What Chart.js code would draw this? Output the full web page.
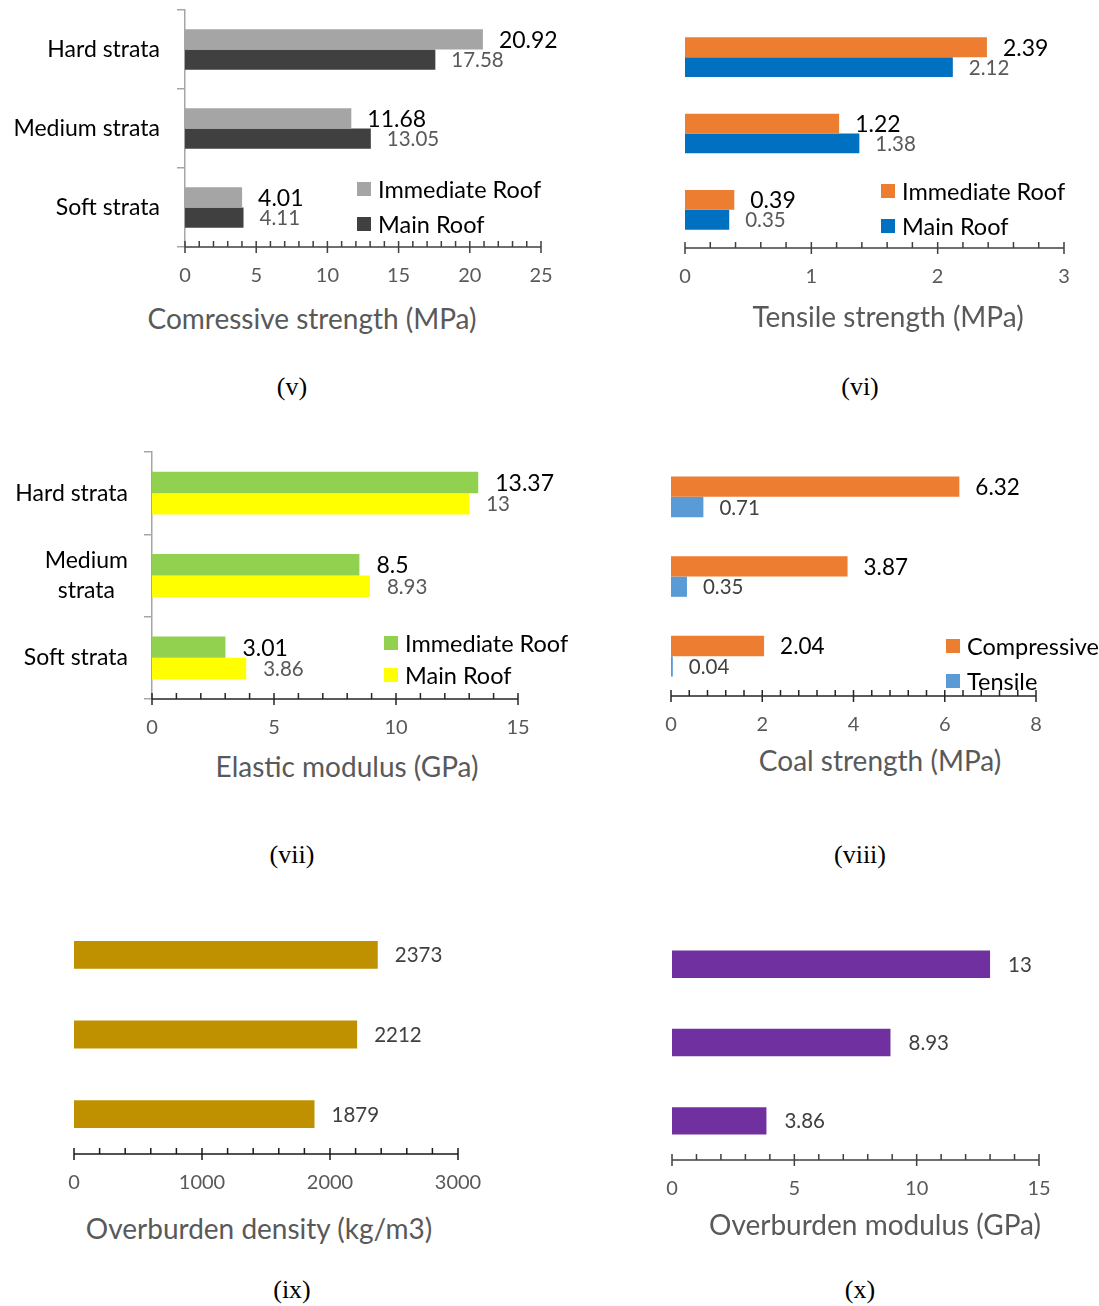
<!DOCTYPE html>
<html>
<head>
<meta charset="utf-8">
<title>Strata properties</title>
<script src="https://cdn.jsdelivr.net/npm/chart.js@4.4.1/dist/chart.umd.min.js"></script>
<style>
  body { margin: 0; background: #fff; }
  #page { position: relative; width: 1099px; height: 1306px; overflow: hidden; font-family: Lato, sans-serif; }
  #page canvas { position: absolute; }
  .axis-title { position: absolute; transform: translate(-50%, -50%); color: #595959; font-size: 28px; white-space: nowrap; }
  .caption { position: absolute; transform: translate(-50%, -50%); font-family: 'Liberation Serif', 'Times New Roman', serif; font-size: 26px; color: #000; }
</style>
</head>
<body>
<div id="page"></div>
<script>
// values per panel
const strataLabels = ['Hard strata', 'Medium strata', 'Soft strata'];
const strataLabelsWrapped = ['Hard strata', ['Medium', 'strata'], 'Soft strata'];

const compImmediate = [20.92, 11.68, 4.01];
const compMain = [17.58, 13.05, 4.11];
const tensImmediate = [2.39, 1.22, 0.39];
const tensMain = [2.12, 1.38, 0.35];
const elasticImmediate = [13.37, 8.5, 3.01];
const elasticMain = [13, 8.93, 3.86];
const coalCompressive = [6.32, 3.87, 2.04];
const coalTensile = [0.71, 0.35, 0.04];
const overburdenDensity = [2373, 2212, 1879];
const overburdenModulus = [13, 8.93, 3.86];

// [min, max, major step, minor step]
const compAxis = [0, 25, 5, 1];
const tensAxis = [0, 3, 1, 0.2];
const elasticAxis = [0, 15, 5, 1];
const coalAxis = [0, 8, 2, 0.4];
const densityAxis = [0, 3000, 1000, 200];
const modulusAxis = [0, 15, 5, 1];

const FONT = 'Lato, sans-serif';

// x axis line with crossing major ticks and inward minor ticks
const axisTicks = {
  id: 'axisTicks',
  afterDraw(chart, args, o) {
    const { ctx, chartArea } = chart;
    const sx = chart.scales.x;
    const y0 = chartArea.bottom;
    ctx.save();
    ctx.strokeStyle = o.color;
    ctx.lineWidth = 1.5;
    ctx.beginPath();
    ctx.moveTo(chartArea.left, y0);
    ctx.lineTo(chartArea.right, y0);
    const n = Math.round((sx.max - sx.min) / o.minor);
    for (let i = 0; i <= n; i++) {
      const v = sx.min + i * o.minor;
      const px = sx.getPixelForValue(v);
      const r = v / o.major;
      const major = Math.abs(r - Math.round(r)) < 1e-6;
      ctx.moveTo(px, y0 - 6);
      ctx.lineTo(px, y0 + (major ? 6 : 0));
    }
    ctx.stroke();
    ctx.restore();
  }
};

// value text at the end of each bar
const barValues = {
  id: 'barValues',
  afterDatasetsDraw(chart, args, o) {
    const ctx = chart.ctx;
    ctx.save();
    ctx.textAlign = 'left';
    ctx.textBaseline = 'middle';
    chart.data.datasets.forEach((ds, i) => {
      ctx.font = ds.valueSize + 'px ' + FONT;
      ctx.fillStyle = ds.valueColor;
      chart.getDatasetMeta(i).data.forEach((bar, j) => {
        ctx.fillText(String(ds.data[j]), bar.x + o.offset, bar.y + 1);
      });
    });
    ctx.restore();
  }
};

// legend boxes drawn inside the plot
const boxLegend = {
  id: 'boxLegend',
  afterDraw(chart, args, o) {
    const ctx = chart.ctx;
    ctx.save();
    ctx.font = o.size + 'px ' + FONT;
    ctx.textAlign = 'left';
    ctx.textBaseline = 'middle';
    chart.data.datasets.forEach((ds, i) => {
      const cy = o.y + i * o.gap;
      ctx.fillStyle = ds.backgroundColor;
      ctx.fillRect(o.x, cy - 7, 14, 14);
      ctx.fillStyle = '#000';
      ctx.fillText(ds.label, o.x + 21, cy + 1);
    });
    ctx.restore();
  }
};

// category names: block right-aligned, lines centred within the block
const categoryLabels = {
  id: 'categoryLabels',
  afterDraw(chart, args, o) {
    const ctx = chart.ctx;
    const sy = chart.scales.y;
    ctx.save();
    ctx.font = o.size + 'px ' + FONT;
    ctx.fillStyle = '#000';
    ctx.textAlign = 'center';
    ctx.textBaseline = 'middle';
    const right = chart.chartArea.left - o.gap;
    chart.data.labels.forEach((lab, i) => {
      const lines = [].concat(lab);
      const w = Math.max(...lines.map(l => ctx.measureText(l).width));
      const cy = sy.getPixelForValue(i);
      lines.forEach((l, k) => {
        ctx.fillText(l, right - w / 2, cy + (k - (lines.length - 1) / 2) * o.lineHeight);
      });
    });
    ctx.restore();
  }
};

const page = document.getElementById('page');

function makePanel(p) {
  const [bx, by, bw, bh] = p.box;
  const [left, right, top, bottom] = p.area;
  const canvas = document.createElement('canvas');
  canvas.width = bw;
  canvas.height = bh;
  canvas.style.left = bx + 'px';
  canvas.style.top = by + 'px';
  page.appendChild(canvas);

  const [min, max, major, minor] = p.axis;
  const yScale = p.yAxis ? {
    afterFit: s => { s.width = left; },
    ticks: { display: false },
    grid: { drawOnChartArea: false, tickLength: 8, color: p.yColor, lineWidth: 1.5 },
    border: { color: p.yColor, width: 1.5 }
  } : { display: false };

  new Chart(canvas, {
    type: 'bar',
    data: {
      labels: p.labels,
      datasets: p.series.map(s => ({
        label: s.name,
        data: s.data,
        backgroundColor: s.color,
        valueColor: s.valueColor,
        valueSize: s.valueSize,
        borderWidth: 0,
        categoryPercentage: p.band,
        barPercentage: 1
      }))
    },
    options: {
      indexAxis: 'y',
      responsive: false,
      animation: false,
      devicePixelRatio: 1,
      layout: {
        padding: { left: p.yAxis ? 0 : left, right: bw - right, top: top, bottom: bh - bottom - 40 }
      },
      scales: {
        x: {
          min: min,
          max: max,
          afterFit: s => { s.height = 40; },
          ticks: {
            stepSize: major,
            callback: v => v,
            color: '#595959',
            font: { family: FONT, size: 20 },
            padding: 17
          },
          grid: { display: false, drawTicks: false },
          border: { display: false }
        },
        y: yScale
      },
      plugins: {
        legend: { display: false },
        tooltip: { enabled: false },
        axisTicks: { major: major, minor: minor, color: p.axisColor },
        barValues: { offset: p.valueOffset },
        boxLegend: p.legend || false,
        categoryLabels: p.yAxis ? { size: 23, gap: p.labelGap, lineHeight: 30 } : false
      }
    },
    plugins: [axisTicks, barValues, boxLegend, categoryLabels]
  });
}

makePanel({
  box: [0, 0, 580, 300], area: [185, 541, 10, 247],
  labels: strataLabels, axis: compAxis, band: 0.51, yAxis: true, yColor: '#a6a6a6', labelGap: 25,
  axisColor: '#404040', valueOffset: 16,
  legend: { x: 357, y: 189, gap: 35, size: 23.5 },
  series: [
    { name: 'Immediate Roof', data: compImmediate, color: '#a5a5a5', valueColor: '#000', valueSize: 23 },
    { name: 'Main Roof', data: compMain, color: '#404040', valueColor: '#595959', valueSize: 20.5 }
  ]
});

makePanel({
  box: [560, 0, 539, 300], area: [125, 504, 19, 248],
  labels: strataLabels, axis: tensAxis, band: 0.52, yAxis: false,
  axisColor: '#404040', valueOffset: 16,
  legend: { x: 321, y: 191, gap: 35, size: 23.5 },
  series: [
    { name: 'Immediate Roof', data: tensImmediate, color: '#ed7d31', valueColor: '#000', valueSize: 23 },
    { name: 'Main Roof', data: tensMain, color: '#0070c0', valueColor: '#595959', valueSize: 20.5 }
  ]
});

makePanel({
  box: [0, 440, 600, 300], area: [152, 518, 12, 259],
  labels: strataLabelsWrapped, axis: elasticAxis, band: 0.52, yAxis: true, yColor: '#a6a6a6', labelGap: 24,
  axisColor: '#262626', valueOffset: 17,
  legend: { x: 384, y: 203, gap: 32, size: 23.5 },
  series: [
    { name: 'Immediate Roof', data: elasticImmediate, color: '#92d050', valueColor: '#000', valueSize: 23 },
    { name: 'Main Roof', data: elasticMain, color: '#ffff00', valueColor: '#595959', valueSize: 20.5 }
  ]
});

makePanel({
  box: [600, 440, 499, 300], area: [71, 436, 17, 256],
  labels: strataLabels, axis: coalAxis, band: 0.51, yAxis: false,
  axisColor: '#262626', valueOffset: 16,
  legend: { x: 346, y: 206, gap: 35, size: 23.5 },
  series: [
    { name: 'Compressive', data: coalCompressive, color: '#ed7d31', valueColor: '#000', valueSize: 22.5 },
    { name: 'Tensile', data: coalTensile, color: '#5b9bd5', valueColor: '#404040', valueSize: 20.5 }
  ]
});

makePanel({
  box: [0, 900, 580, 300], area: [74, 458, 15, 254],
  labels: strataLabels, axis: densityAxis, band: 0.35, yAxis: false,
  axisColor: '#1a1a1a', valueOffset: 17,
  series: [
    { name: 'Overburden density', data: overburdenDensity, color: '#bf9000', valueColor: '#404040', valueSize: 20.5 }
  ]
});

makePanel({
  box: [600, 900, 499, 310], area: [72, 439, 25, 260],
  labels: strataLabels, axis: modulusAxis, band: 0.35, yAxis: false,
  axisColor: '#404040', valueOffset: 18,
  series: [
    { name: 'Overburden modulus', data: overburdenModulus, color: '#7030a0', valueColor: '#404040', valueSize: 20.5 }
  ]
});

// axis titles and panel captions
const axisTitles = [
  ['Comressive strength (MPa)', 312, 318],
  ['Tensile strength (MPa)', 888, 316],
  ['Elastic modulus (GPa)', 347, 766],
  ['Coal strength (MPa)', 880, 760],
  ['Overburden density (kg/m3)', 259, 1228],
  ['Overburden modulus (GPa)', 875, 1224]
];
const captions = [
  ['(v)', 292, 387], ['(vi)', 860, 387],
  ['(vii)', 292, 855], ['(viii)', 860, 855],
  ['(ix)', 292, 1290], ['(x)', 860, 1290]
];

function addText(cls, [text, x, y]) {
  const d = document.createElement('div');
  d.className = cls;
  d.textContent = text;
  d.style.left = x + 'px';
  d.style.top = y + 'px';
  page.appendChild(d);
}
axisTitles.forEach(t => addText('axis-title', t));
captions.forEach(t => addText('caption', t));
</script>
</body>
</html>
